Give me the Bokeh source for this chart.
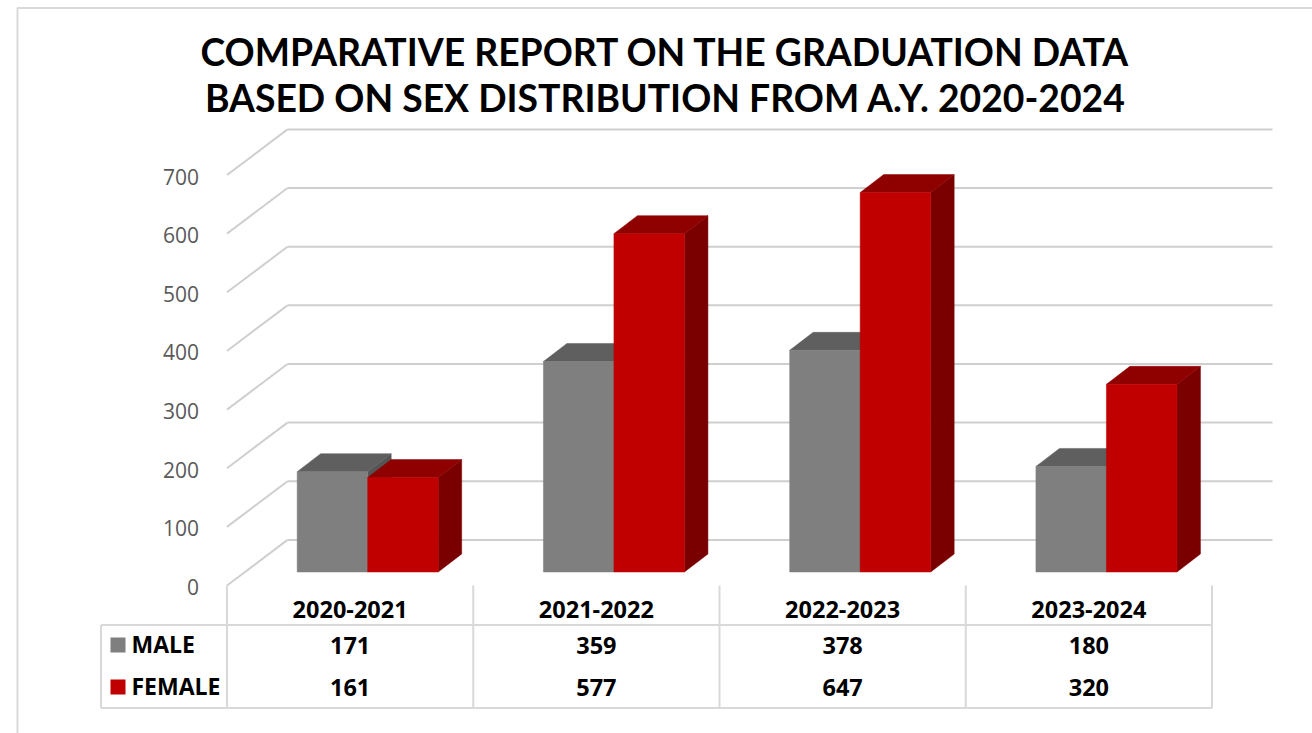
from bokeh.embed import file_html
from bokeh.resources import INLINE
from bokeh.plotting import figure
from bokeh.models import Range1d, LinearAxis, FixedTicker
from bokeh.core.properties import value

title_lines = ["COMPARATIVE REPORT ON THE GRADUATION DATA",
               "BASED ON SEX DISTRIBUTION FROM A.Y. 2020-2024"]
years = ["2020-2021", "2021-2022", "2022-2023", "2023-2024"]
male = [171, 359, 378, 180]
female = [161, 577, 647, 320]
ticks = [0, 100, 200, 300, 400, 500, 600, 700]

# page geometry
W, H = 1312, 733
LEFT, TOP = 0, 0
CELL = 246.25
X0 = 226.5
PX_PER_UNIT = 0.5864
BASE_Y = 571.5
AXIS_Y = 585.0
AXIS_LABEL_Y = 586.5
WALL_Y = 539.4
DEPTH_X = 23.5 / CELL
DEPTH_Y = 18.0 / PX_PER_UNIT
BAR_W = 70.5 / CELL
BAR_START = 0.285
WALL_DX = 60.5 / CELL
WALL_LIFT = (BASE_Y - WALL_Y) / PX_PER_UNIT
AXIS_DROP = (AXIS_Y - BASE_Y) / PX_PER_UNIT

x_range = Range1d((LEFT - X0) / CELL, (LEFT + W - X0) / CELL)
y_range = Range1d((BASE_Y - (TOP + H)) / PX_PER_UNIT, (BASE_Y - TOP) / PX_PER_UNIT)

p = figure(width=W, height=H, x_range=x_range, y_range=y_range,
           toolbar_location=None, output_backend="svg", min_border=0,
           x_axis_location=None, y_axis_location=None,
           background_fill_color="white", border_fill_color="white")
p.outline_line_color = None
p.grid.visible = False

p.extra_x_ranges["px"] = Range1d(LEFT, LEFT + W)
p.extra_y_ranges["px"] = Range1d(TOP + H, TOP)
p.extra_y_ranges["front"] = Range1d((AXIS_LABEL_Y - (TOP + H)) / PX_PER_UNIT, (AXIS_LABEL_Y - TOP) / PX_PER_UNIT)

GRID = "#cfcfcf"
TABLE = "#d9d9d9"

# frame of the chart area
p.line([1312, 17, 17], [7.5, 7.5, 733], x_range_name="px", y_range_name="px",
       line_color=TABLE, line_width=2)

# gridlines: floor diagonal plus back wall
p.segment(x0=[0.0] * len(ticks), y0=[t - AXIS_DROP for t in ticks],
          x1=[WALL_DX] * len(ticks), y1=[t + WALL_LIFT for t in ticks],
          line_color=GRID, line_width=2)
p.segment(x0=[WALL_DX] * len(ticks), y0=[t + WALL_LIFT for t in ticks],
          x1=[len(years) + WALL_DX] * len(ticks), y1=[t + WALL_LIFT for t in ticks],
          line_color=GRID, line_width=2)


def draw_series(values, start, front, top, side):
    lefts = [i + start for i in range(len(values))]
    rights = [l + BAR_W for l in lefts]
    p.patches(
        xs=[[r, r + DEPTH_X, r + DEPTH_X, r] for r in rights],
        ys=[[0, DEPTH_Y, v + DEPTH_Y, v] for v in values],
        fill_color=side, line_color=side, line_width=0.5)
    p.patches(
        xs=[[l, l + DEPTH_X, r + DEPTH_X, r] for l, r in zip(lefts, rights)],
        ys=[[v, v + DEPTH_Y, v + DEPTH_Y, v] for v in values],
        fill_color=top, line_color=top, line_width=0.5)
    p.quad(left=lefts, right=rights, bottom=[0] * len(values), top=values,
           fill_color=front, line_color=front, line_width=0.5)


draw_series(male, BAR_START, "#7f7f7f", "#5f5f5f", "#555555")
draw_series(female, BAR_START + BAR_W, "#c00000", "#8f0000", "#7a0000")

# value axis (front edge of the floor)
axis = LinearAxis(y_range_name="front", ticker=FixedTicker(ticks=ticks),
                  fixed_location=0.0)
axis.axis_line_color = None
axis.major_tick_line_color = None
axis.minor_tick_line_color = None
axis.major_label_standoff = 22
axis.major_label_text_font = "Open Sans"
axis.major_label_text_font_size = "21px"
axis.major_label_text_color = "#595959"
p.add_layout(axis, "left")

# data table
n = len(years)
table_xs = [X0 + CELL * i for i in range(n + 1)]
p.segment(x0=table_xs, y0=[585] * (n + 1), x1=table_xs, y1=[708] * (n + 1),
          x_range_name="px", y_range_name="px", line_color=TABLE, line_width=2)
p.segment(x0=[100.5, 100.5, 100.5], y0=[624.5, 707.5, 624.5],
          x1=[X0 + CELL * n, X0 + CELL * n, 100.5], y1=[624.5, 707.5, 707.5],
          x_range_name="px", y_range_name="px", line_color=TABLE, line_width=2)

centers = [i + 0.5 for i in range(n)]
bold = dict(text_font=value("Open Sans"), text_font_style="bold", text_color="black",
            text_align="center", text_baseline="middle", text_font_size="23.5px",
            y_range_name="px")
p.text(x=centers, y=[608.5] * n, text=years, **bold)
p.text(x=centers, y=[644.5] * n, text=[str(v) for v in male], **bold)
p.text(x=centers, y=[686.5] * n, text=[str(v) for v in female], **bold)

p.quad(left=[110, 110], right=[125, 125], top=[637, 679], bottom=[652, 694],
       fill_color=["#7f7f7f", "#c00000"], line_color=None,
       x_range_name="px", y_range_name="px")
p.text(x=[131, 131], y=[643.5, 685.5], text=["MALE", "FEMALE"],
       text_font=value("Open Sans"), text_font_style="bold", text_color="black",
       text_align="left", text_baseline="middle", text_font_size="23px",
       x_range_name="px", y_range_name="px")

# title
p.text(x=[665, 665], y=[50.5, 96.5], text=title_lines,
       text_font=value("Lato"), text_font_style="bold", text_color="black",
       text_align="center", text_baseline="middle", text_font_size="37.3px",
       x_range_name="px", y_range_name="px")

open("out.html", "w").write(file_html(p, INLINE))
